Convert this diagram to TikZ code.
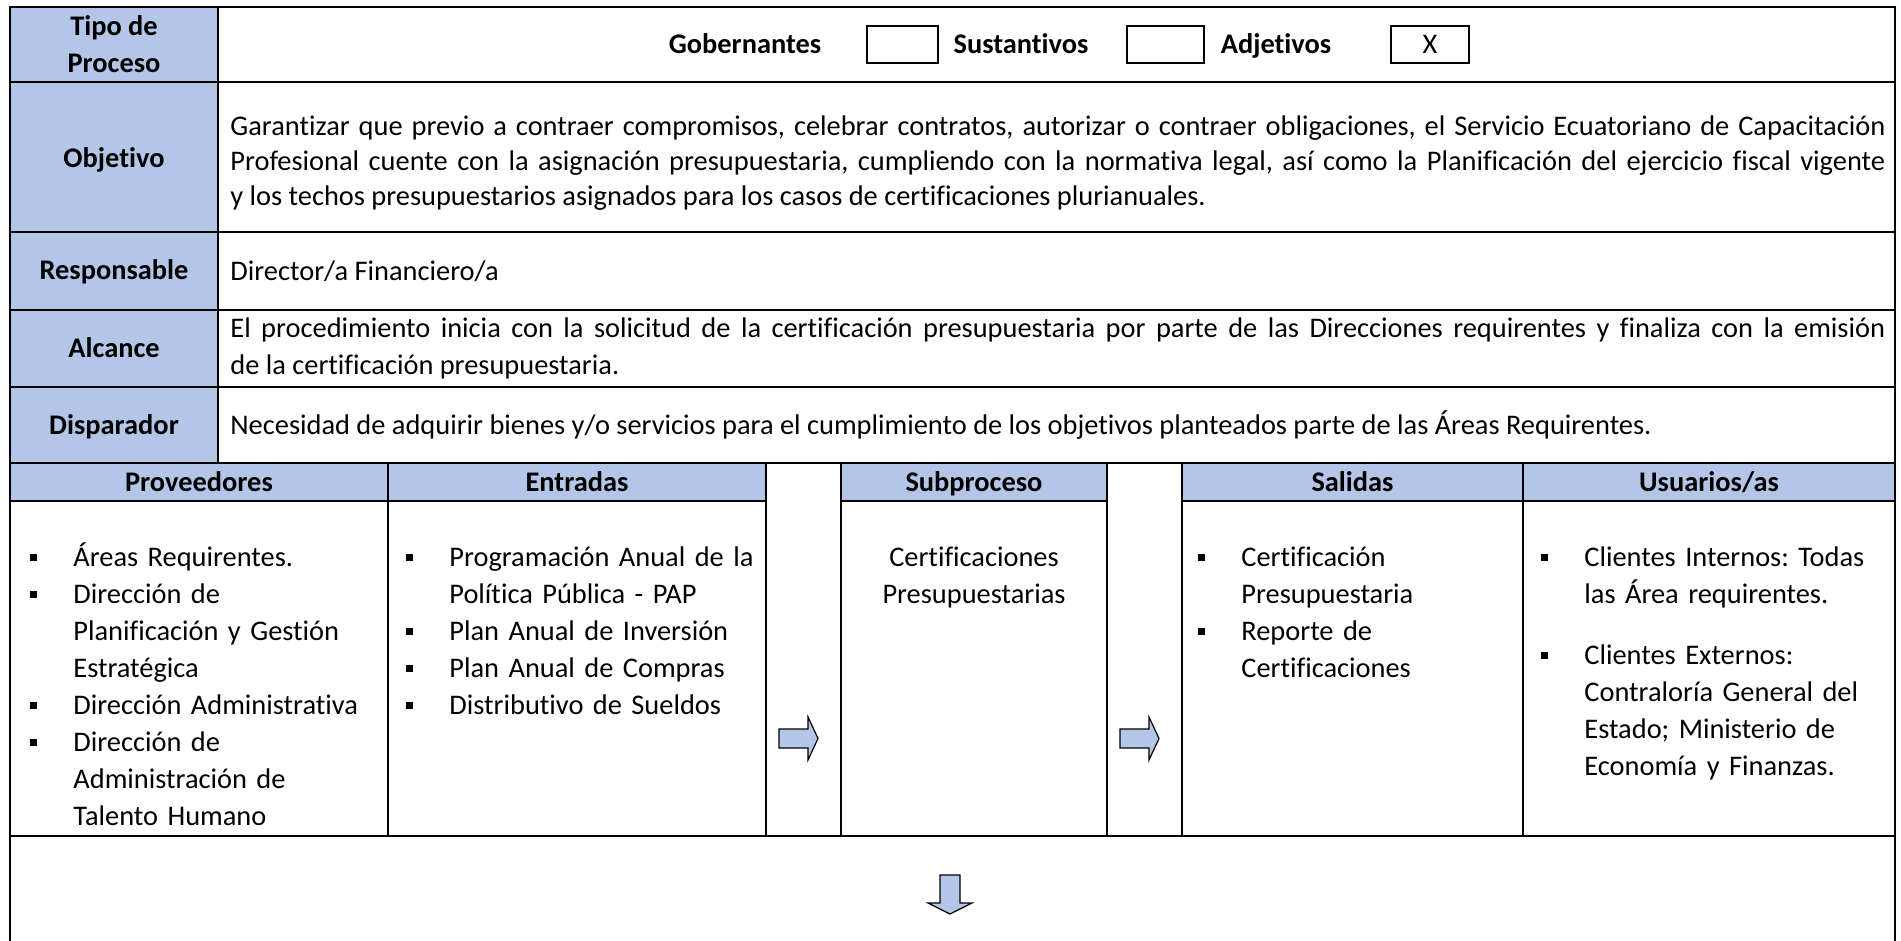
\documentclass[tikz,border=0pt]{standalone}
\usepackage{fontspec}
\setmainfont{Carlito}[Ligatures=NoCommon]
\usetikzlibrary{shapes.arrows}

\definecolor{cellblue}{HTML}{B4C6E7}
% square bullet with hanging indent
\newcommand\bitem{\noindent\hangindent=21.5pt\hangafter=1\makebox[21.5pt][l]{\rule[2.4pt]{3.2pt}{3.8pt}}}

\begin{document}
\frenchspacing
\begin{tikzpicture}[x=0.5pt,y=-0.5pt,
  every node/.style={inner sep=0pt,font=\fontsize{14.2}{18.5}\selectfont},
  lbl/.style={font=\fontsize{14.2}{18.5}\selectfont\bfseries,align=center},
  txt/.style={anchor=west,text width=827.5pt,align=justify},
  lst/.style={anchor=base west},
  chkbox/.style={draw,line width=0.65pt,minimum width=35.5pt,minimum height=18.5pt},
  flow/.style={draw,fill=cellblue,line width=0.6pt,line join=miter},
  gridline/.style={line width=1pt},
  colline/.style={line width=0.85pt}]

\useasboundingbox (0,0) rectangle (1901,941);

% The shaded cells
\fill[cellblue] (10,7) rectangle (218,463);
\fill[cellblue] (10,463) rectangle (766,501);
\fill[cellblue] (841,463) rectangle (1107,501);
\fill[cellblue] (1182,463) rectangle (1895,501);

% The frame and the rows
\draw[gridline] (10,941) -- (10,7) -- (1895,7) -- (1895,941);
\foreach \ry in {82,232,310,387,463,836}
  \draw[gridline] (10,\ry) -- (1895,\ry);
\draw[gridline] (218,7) -- (218,463);
\draw[gridline] (10,501) -- (766,501);
\draw[gridline] (841,501) -- (1107,501);
\draw[gridline] (1182,501) -- (1895,501);

% The columns
\foreach \cx in {388,766,841,1107,1182,1523}
  \draw[colline] (\cx,463) -- (\cx,836);

% Row labels
\node[lbl] (tipo) at (114,44.5) {Tipo de\\Proceso};
\node[lbl,anchor=base] (objetivo) at (114,168) {Objetivo};
\node[lbl,anchor=base] (responsable) at (114,280) {Responsable};
\node[lbl,anchor=base] (alcance) at (114,357.5) {Alcance};
\node[lbl,anchor=base] (disparador) at (114,434) {Disparador};

% Process type
\node[lbl,anchor=base] (gob) at (745,54) {Gobernantes};
\node[chkbox] (gobbox) at (902.5,44.5) {};
\node[lbl,anchor=base] (sus) at (1021,54) {Sustantivos};
\node[chkbox,minimum width=38.5pt] (susbox) at (1165.5,44.5) {};
\node[lbl,anchor=base] (adj) at (1276,54) {Adjetivos};
\node[chkbox,minimum width=39pt] (adjbox) at (1430,44.5) {};
\node[anchor=base] (adjmark) at (adjbox.center |- 0,54) {X};

% Row texts
\node[txt,font=\fontsize{14.2}{17.7}\selectfont] (objtxt) at (230,163) {Garantizar que previo a contraer compromisos, celebrar contratos, autorizar o contraer obligaciones, el Servicio Ecuatoriano de Capacitación\linebreak
Profesional cuente con la asignación presupuestaria, cumpliendo con la normativa legal, así como la Planificación del ejercicio fiscal vigente\linebreak
y los techos presupuestarios asignados para los casos de certificaciones plurianuales.};
\node[txt] (resptxt) at (230,271) {Director/a Financiero/a};
\node[txt] (alctxt) at (230,348.5) {El procedimiento inicia con la solicitud de la certificación presupuestaria por parte de las Direcciones requirentes y finaliza con la emisión\linebreak
de la certificación presupuestaria.};
\node[txt] (disptxt) at (230,425) {Necesidad de adquirir bienes y/o servicios para el cumplimiento de los objetivos planteados parte de las Áreas Requirentes.};

% Column heads
\node[lbl,anchor=base] (prov) at (199,491) {Proveedores};
\node[lbl,anchor=base] (ent) at (577,491) {Entradas};
\node[lbl,anchor=base] (sub) at (974,491) {Subproceso};
\node[lbl,anchor=base] (sal) at (1352.5,491) {Salidas};
\node[lbl,anchor=base] (usu) at (1709,491) {Usuarios/as};

% Column contents
\node[lst,text width=175pt] (provtxt) at (30,566) {\raggedright
\bitem Áreas Requirentes.\par
\bitem Dirección de\newline Planificación y Gestión\newline Estratégica\par
\bitem Dirección Administrativa\par
\bitem Dirección de\newline Administración de\newline Talento Humano\par};
\node[lst,text width=176pt] (enttxt) at (406,566) {\raggedright
\bitem Programación Anual de la\newline Política Pública - PAP\par
\bitem Plan Anual de Inversión\par
\bitem Plan Anual de Compras\par
\bitem Distributivo de Sueldos\par};
\node[anchor=base,text width=125pt,align=center] (subtxt) at (974,566) {Certificaciones\\Presupuestarias};
\node[lst,text width=158pt] (saltxt) at (1198,566) {\raggedright
\bitem Certificación\newline Presupuestaria\par
\bitem Reporte de\newline Certificaciones\par};
\node[lst,text width=172pt] (usutxt) at (1541,566) {\raggedright
\bitem Clientes Internos: Todas\newline las Área requirentes.\par
\vspace{12pt}
\bitem Clientes Externos:\newline Contraloría General del\newline Estado; Ministerio de\newline Economía y Finanzas.\par};

% The arrows
\foreach \ax in {779,1120}
  \draw[flow] (\ax,729) -- ++(29,0) -- ++(0,-12) -- ++(10,21.5) -- ++(-10,21.5)
    -- ++(0,-12) -- ++(-29,0) -- cycle;
\draw[flow] (940,875) -- (960,875) -- (960,903) -- (972,903) -- (950,914)
  -- (928,903) -- (940,903) -- cycle;

\end{tikzpicture}
\end{document}
